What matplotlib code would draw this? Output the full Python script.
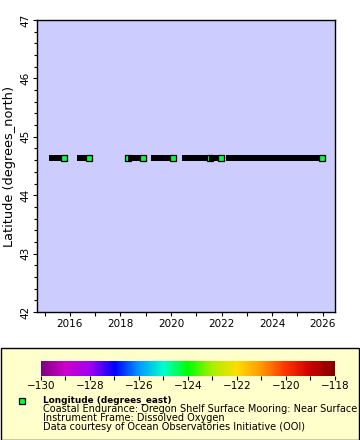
import numpy as np
import pandas as pd
import matplotlib
matplotlib.use("Agg")
import matplotlib.pyplot as plt
import matplotlib.dates as mdates
from matplotlib.colors import LinearSegmentedColormap, Normalize
from matplotlib.patches import Rectangle

# deployment runs (start, end) at the mooring
starts = ["2015-04-16", "2016-05-27", "2018-04-18", "2018-05-27", "2019-05-01",
          "2020-07-24", "2021-08-12", "2022-04-20"]
ends = ["2015-10-05", "2016-10-01", "2018-04-22", "2018-11-17", "2020-01-26",
        "2021-07-19", "2021-12-24", "2025-12-20"]
latitude = 44.64
longitude = -124.3

cbar_labels = [-130, -128, -126, -124, -122, -120, -118]

colors = ["#800080", "#cc00cc", "#a000f0", "#0000ff", "#0099ff", "#00ffcc",
          "#00ff00", "#aaee00", "#ffdd00", "#ff9900", "#ff3300", "#cc0000", "#800000"]
cmap = LinearSegmentedColormap.from_list("rainbow2", colors)
norm = Normalize(-130, -118)
pt_color = cmap(norm(longitude))

fig = plt.figure(figsize=(3.6, 4.4), dpi=100)
fig.patch.set_facecolor("white")

ax = fig.add_axes([37/360, 1 - 312/440, 298/360, 292/440])
ax.set_facecolor("#ccccff")

s = pd.to_datetime(starts)
e = pd.to_datetime(ends)
msize = 6 * 72 / 100
for i, (a, b) in enumerate(zip(s, e)):
    ax.plot([a, b], [latitude, latitude], color="black", lw=msize,
            solid_capstyle="projecting", zorder=2 + 2 * i)
    ax.plot([b], [latitude], marker="s", ms=msize, mfc=pt_color, mec="black",
            mew=0.9, zorder=3 + 2 * i)

ax.set_xlim(pd.Timestamp("2014-09-13"), pd.Timestamp("2026-06-28"))
ax.set_ylim(42, 47)
ax.xaxis.set_major_locator(mdates.YearLocator(2))
ax.xaxis.set_major_formatter(mdates.DateFormatter("%Y"))
ax.xaxis.set_minor_locator(mdates.YearLocator(1))
ax.yaxis.set_major_locator(plt.MultipleLocator(1))
ax.yaxis.set_minor_locator(plt.MultipleLocator(0.2))
ax.tick_params(which="both", direction="out", length=3, width=0.8, labelsize=7.5, pad=2)
ax.tick_params(axis="y", which="minor", length=2)
for t in ax.get_yticklabels():
    t.set_rotation(90)
    t.set_va("center")
ax.set_ylabel("Latitude (degrees_north)", fontsize=9.3, labelpad=3)
for sp in ax.spines.values():
    sp.set_linewidth(1)

# legend panel
fig.patches.append(Rectangle((0.5/360, 0.5/440), 358.5/360, 91.5/440, transform=fig.transFigure,
                             facecolor="#ffffcc", edgecolor="black", lw=1, zorder=-5))

cax = fig.add_axes([41/360, 1 - 375.7/440, 294/360, 14.7/440])
cb = fig.colorbar(plt.cm.ScalarMappable(norm=norm, cmap=cmap), cax=cax, orientation="horizontal")
cb.outline.set_visible(False)
cb.set_ticks(cbar_labels)
cb.ax.xaxis.set_minor_locator(plt.MultipleLocator(1))
cax.tick_params(which="both", direction="out", length=3, width=0.8, labelsize=7.5, pad=1)

fig.lines.append(plt.Line2D([22/360], [1 - 400.5/440], marker="s", ms=4.5, mfc=pt_color,
                            mec="black", mew=0.9, transform=fig.transFigure))
fig.text(43/360, 1 - 400/440, "Longitude (degrees_east)", fontsize=6.4, fontweight="bold",
         va="center")
fig.text(43/360, 1 - 409/440, "Coastal Endurance: Oregon Shelf Surface Mooring: Near Surface",
         fontsize=7, va="center")
fig.text(43/360, 1 - 418/440, "Instrument Frame: Dissolved Oxygen", fontsize=7, va="center")
fig.text(43/360, 1 - 427/440, "Data courtesy of Ocean Observatories Initiative (OOI)",
         fontsize=7, va="center")

fig.savefig("out.png", dpi=100)
